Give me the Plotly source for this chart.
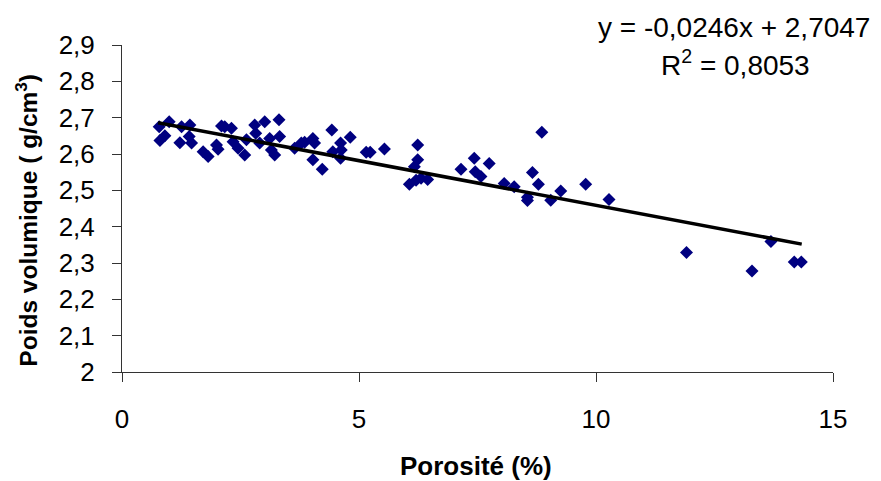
import plotly.graph_objects as go

# Porosité (%) values
porosite = [0.785, 0.80, 0.905, 0.996, 1.257, 1.221, 1.432, 1.417, 1.467, 1.712,
            1.817, 1.994, 2.027, 2.099, 2.168, 2.309, 2.343, 2.448, 2.589, 2.625,
            2.800, 2.821, 3.011, 2.905, 3.116, 3.152, 3.221, 3.312, 3.326, 3.642,
            3.783, 3.853, 4.027, 4.063, 4.027, 4.225, 4.427, 4.448, 4.611, 4.625,
            4.611, 4.815, 5.152, 5.236, 5.537, 6.238, 6.238, 6.168, 6.063, 6.204,
            6.309, 6.448, 7.152, 7.432, 7.453, 7.573, 7.747, 8.063, 8.274, 8.554,
            8.554, 8.659, 8.785, 8.857, 9.046, 9.257, 9.783, 10.274, 11.909, 13.291,
            13.691, 14.183, 14.331]

# Poids volumique (g/cm3) values
poids = [2.675, 2.637, 2.650, 2.689, 2.675, 2.631, 2.680, 2.648, 2.630, 2.606,
         2.593, 2.625, 2.613, 2.677, 2.675, 2.671, 2.634, 2.616, 2.597, 2.639,
         2.680, 2.657, 2.689, 2.630, 2.643, 2.611, 2.597, 2.694, 2.648, 2.616,
         2.630, 2.632, 2.643, 2.630, 2.584, 2.558, 2.666, 2.606, 2.630, 2.611,
         2.588, 2.646, 2.605, 2.605, 2.614, 2.625, 2.584, 2.565, 2.517, 2.528,
         2.533, 2.530, 2.558, 2.588, 2.551, 2.538, 2.574, 2.519, 2.510, 2.481,
         2.472, 2.549, 2.517, 2.660, 2.473, 2.498, 2.517, 2.475, 2.329, 2.278,
         2.359, 2.303, 2.303]

# Linear trend line endpoints (y = -0,0246x + 2,7047)
trend_x = [0.76, 14.34]
trend_y = [2.686, 2.352]

x_ticks = [0, 5, 10, 15]
x_tick_labels = ["0", "5", "10", "15"]
y_ticks = [2.0, 2.1, 2.2, 2.3, 2.4, 2.5, 2.6, 2.7, 2.8, 2.9]
y_tick_labels = ["2", "2,1", "2,2", "2,3", "2,4", "2,5", "2,6", "2,7", "2,8", "2,9"]

FONT = "Arial, Liberation Sans, sans-serif"

fig = go.Figure()
fig.add_trace(go.Scatter(
    x=porosite, y=poids, mode="markers",
    marker=dict(symbol="diamond", size=10, color="#000080", line=dict(width=0)),
    showlegend=False, hoverinfo="skip"))
fig.add_trace(go.Scatter(
    x=trend_x, y=trend_y, mode="lines",
    line=dict(color="black", width=3.5),
    showlegend=False, hoverinfo="skip"))

axis_common = dict(
    showgrid=False, zeroline=False, showline=True, linecolor="#333333", linewidth=1,
    ticks="outside", ticklen=9, tickcolor="#333333", tickwidth=1,
    tickfont=dict(family=FONT, size=26, color="black"),
)
fig.update_xaxes(range=[0, 15], tickvals=x_ticks, ticktext=x_tick_labels,
                 ticklabelstandoff=15, **axis_common)
fig.update_yaxes(range=[2, 2.9], tickvals=y_ticks, ticktext=y_tick_labels,
                 ticklabelstandoff=12, **axis_common)

fig.add_annotation(xref="paper", yref="paper", x=0.861, y=1.055,
                   text="y = -0,0246x + 2,7047", showarrow=False,
                   font=dict(family=FONT, size=28, color="black"),
                   xanchor="center", yanchor="middle")
fig.add_annotation(xref="paper", yref="paper", x=0.863, y=0.945,
                   text="R<sup>2</sup> = 0,8053", showarrow=False,
                   font=dict(family=FONT, size=28, color="black"),
                   xanchor="center", yanchor="middle")
fig.add_annotation(xref="paper", yref="paper", x=0.498, y=-0.287,
                   text="<b>Porosité (%)</b>", showarrow=False,
                   font=dict(family=FONT, size=26, color="black"),
                   xanchor="center", yanchor="middle")
fig.add_annotation(xref="paper", yref="paper", x=-0.134, y=0.465,
                   text="<b>Poids volumique ( g/cm<sup>3</sup>)</b>", showarrow=False,
                   textangle=-90,
                   font=dict(family=FONT, size=24.5, color="black"),
                   xanchor="center", yanchor="middle")

fig.update_layout(
    width=881, height=481,
    margin=dict(l=122, r=48, t=45, b=109),
    paper_bgcolor="white", plot_bgcolor="white",
    font=dict(family=FONT, color="black"),
)

fig.write_html("out.html")
